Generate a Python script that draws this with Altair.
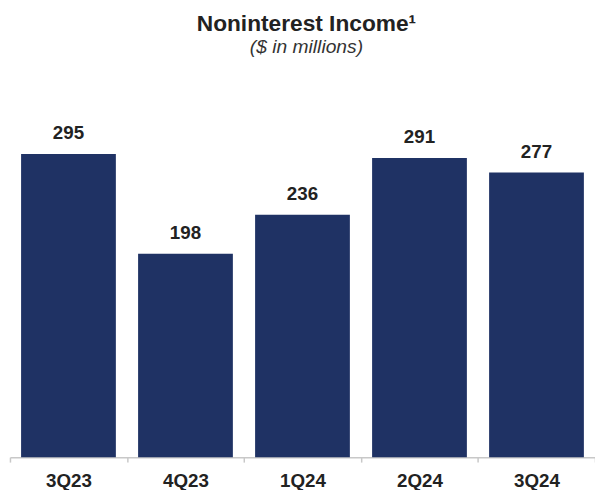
import altair as alt
import pandas as pd

quarters = ["3Q23", "4Q23", "1Q24", "2Q24", "3Q24"]
values = [295, 198, 236, 291, 277]

df = pd.DataFrame({"quarter": quarters, "value": values})

FONT = "Liberation Sans"
TXT = "#222222"

x = alt.X(
    "quarter:N",
    sort=quarters,
    scale=alt.Scale(paddingInner=0, paddingOuter=0),
    axis=alt.Axis(
        title=None, labelAngle=0, labelFontSize=19, labelFontWeight="bold",
        labelColor=TXT, labelFont=FONT, domainColor="#c8c8c8", tickColor="#c8c8c8",
        tickSize=5, tickBand="extent", labelPadding=10, domainWidth=1.5, tickWidth=1.5,
    ),
)
y = alt.Y("value:Q", scale=alt.Scale(domain=[0, 384], nice=False, zero=True), axis=None)

bars = alt.Chart(df).mark_bar(color="#1F3264", width=alt.RelativeBandSize(0.81)).encode(x=x, y=y)
labels = alt.Chart(df).mark_text(
    dy=-15, baseline="alphabetic", fontSize=19, fontWeight="bold", font=FONT, color=TXT
).encode(x=x, y=y, text="value:Q")

chart = (bars + labels).properties(
    width=593,
    height=400,
    title=alt.TitleParams(
        text="Noninterest Income¹",
        subtitle="($ in millions)",
        font=FONT, fontSize=23, fontWeight="bold", color=TXT,
        subtitleFont=FONT, subtitleFontSize=19.5, subtitleFontStyle="italic",
        subtitleColor="#333333", subtitlePadding=2,
        anchor="middle", frame="group", offset=6, dx=4,
    ),
    padding={"left": 2, "top": 52, "right": 0, "bottom": 30},
    autosize=alt.AutoSizeParams(type="none"),
).configure_view(stroke=None)

chart.save("out.html", embed_options={"renderer": "svg", "actions": False})
